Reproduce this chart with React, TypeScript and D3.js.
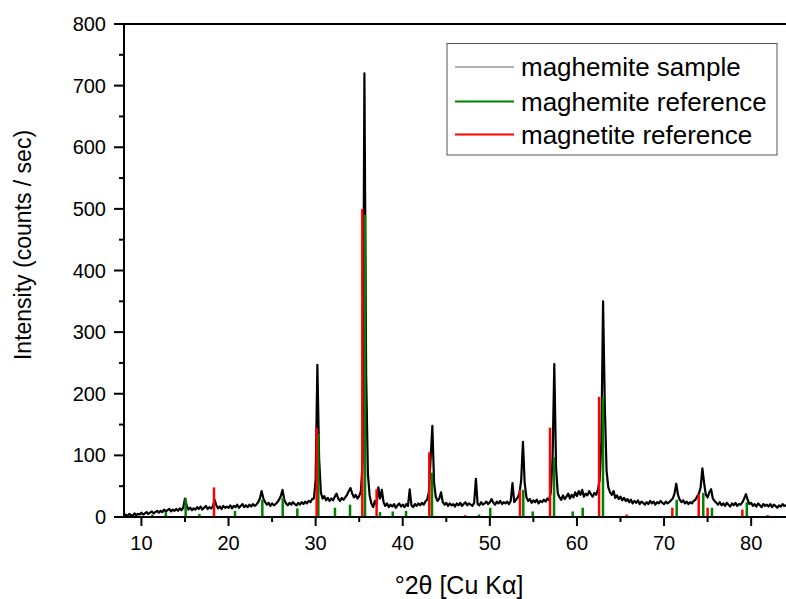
import React from 'react';
import * as d3 from 'd3';

// measured pattern, 8.0 .. 84.0 °2θ, one value every 0.2°
const angleStart = 8.0;
const angleStep = 0.2;
const sampleCounts = [
  2, 4, 1, 5, 3, 2, 6, 3, 5, 4,
  7, 4, 6, 8, 5, 7, 9, 6, 8, 10,
  7, 10, 8, 12, 9, 11, 13, 9, 12, 10,
  13, 10, 14, 11, 15, 30, 19, 12, 15, 11,
  14, 12, 16, 13, 17, 12, 15, 18, 13, 16,
  14, 17, 28, 19, 14, 17, 13, 18, 15, 17,
  15, 19, 14, 18, 16, 20, 15, 18, 21, 16,
  19, 16, 20, 17, 21, 18, 20, 24, 30, 42,
  30, 24, 20, 23, 18, 22, 19, 21, 24, 28,
  34, 44, 28, 22, 19, 23, 20, 24, 21, 19,
  23, 20, 24, 21, 25, 22, 26, 24, 29, 30,
  60, 247, 95, 40, 30, 34, 27, 31, 26, 30,
  27, 33, 38, 30, 26, 31, 28, 32, 36, 42,
  47, 38, 32, 36, 30, 34, 42, 90, 720, 230,
  70, 35, 22, 16, 26, 20, 48, 30, 44, 24,
  18, 22, 16, 20, 17, 21, 15, 19, 22, 17,
  20, 16, 21, 18, 45, 19, 16, 21, 18, 22,
  19, 23, 20, 25, 28, 40, 95, 148, 55, 32,
  26, 30, 40, 24, 20, 23, 18, 22, 19, 21,
  17, 22, 19, 23, 18, 21, 24, 19, 22, 20,
  18, 23, 62, 21, 19, 24, 20, 22, 25, 21,
  24, 29, 23, 20, 25, 22, 26, 21, 24, 22,
  25, 21, 26, 55, 24, 28, 32, 38, 60, 122,
  55, 32, 26, 29, 23, 27, 24, 28, 22, 26,
  24, 28, 25, 30, 27, 40, 95, 248, 80, 38,
  32, 28, 35, 29, 33, 38, 30, 36, 32, 40,
  34, 42, 36, 44, 33, 38, 35, 42, 37, 33,
  39, 36, 44, 60, 120, 350, 180, 75, 48, 40,
  36, 42, 31, 35, 29, 33, 27, 31, 26, 29,
  24, 28, 22, 26, 23, 27, 21, 25, 23, 20,
  24, 21, 26, 22, 25, 20, 24, 22, 26, 23,
  21, 25, 22, 24, 27, 30, 38, 54, 36, 28,
  24, 27, 22, 25, 21, 24, 22, 26, 28, 33,
  38, 48, 79, 55, 36, 32, 40, 45, 30, 26,
  23, 20, 24, 19, 22, 18, 23, 20, 17, 22,
  19, 23, 18, 21, 20, 24, 30, 37, 28, 21,
  23, 18, 21, 17, 22, 19, 16, 21, 18, 20,
  17, 21, 16, 20, 18, 15, 19, 17, 21, 18,
  19,
];

const maghemiteAngles = [11.25, 12.8, 15.08, 16.65, 20.74, 23.88, 26.22, 27.9, 30.31, 32.22, 33.95, 35.67, 37.39, 38.85, 40.38, 43.36, 48.76, 50.05, 53.84, 54.92, 57.37, 59.51, 60.66, 62.99, 71.45, 74.5, 75.5, 79.5];
const maghemiteInt = [4, 8, 30, 5, 10, 28, 31, 14, 135, 15, 20, 490, 8, 9, 10, 72, 4, 15, 44, 9, 97, 9, 15, 195, 28, 39, 15, 24];

const magnetiteAngles = [18.33, 30.12, 35.36, 37.0, 43.05, 47.15, 53.46, 56.91, 62.54, 65.71, 70.95, 73.98, 75.0, 78.99, 81.9];
const magnetiteInt = [48, 145, 500, 45, 105, 3, 44, 145, 195, 4, 15, 37, 15, 12, 3];

const xTicks = [10, 20, 30, 40, 50, 60, 70, 80];
const xMinorTicks = [15, 25, 35, 45, 55, 65, 75];
const yTicks = [0, 100, 200, 300, 400, 500, 600, 700, 800];
const yMinorTicks = [50, 150, 250, 350, 450, 550, 650, 750];

const legendNames = ['maghemite sample', 'maghemite reference', 'magnetite reference'];
const legendColors = ['#666666', '#008000', '#ff0000'];

const W = 786;
const H = 599;
const font = 'Arial, "Liberation Sans", sans-serif';

export default function App() {
  const x = d3.scaleLinear().domain([8, 84]).range([124, 786]);
  const y = d3.scaleLinear().domain([0, 800]).range([517, 24]);

  const pts: [number, number][] = sampleCounts.map((c, i) => [angleStart + i * angleStep, c]);
  const line = d3
    .line<[number, number]>()
    .x((d) => x(d[0]))
    .y((d) => y(d[1]));

  const sticks = (angles: number[], ints: number[], color: string) =>
    angles.map((a, i) => (
      <line key={color + i} x1={x(a)} x2={x(a)} y1={y(0)} y2={y(ints[i])} stroke={color} strokeWidth={2.5} />
    ));

  return (
    <svg width={W} height={H} style={{ position: 'absolute', left: 0, top: 0, background: '#fff' }}>
      <defs>
        <clipPath id="plot">
          <rect x={124} y={24} width={662} height={494} />
        </clipPath>
      </defs>
      <g clipPath="url(#plot)">
        <path d={line(pts) || ''} fill="none" stroke="#000" strokeWidth={2.2} strokeLinejoin="round" />
        {sticks(maghemiteAngles, maghemiteInt, '#008000')}
        {sticks(magnetiteAngles, magnetiteInt, '#ff0000')}
      </g>

      {/* axes */}
      <g stroke="#000" strokeWidth={2}>
        <line x1={124} x2={786} y1={y(0)} y2={y(0)} />
        <line x1={124} x2={786} y1={y(800)} y2={y(800)} />
        <line x1={124} x2={124} y1={y(800) - 1} y2={y(0) + 1} />
        {xTicks.map((t) => (
          <line key={'xt' + t} x1={x(t)} x2={x(t)} y1={y(0)} y2={y(0) + 9} />
        ))}
        {xMinorTicks.map((t) => (
          <line key={'xm' + t} x1={x(t)} x2={x(t)} y1={y(0)} y2={y(0) + 5} />
        ))}
        {yTicks.map((t) => (
          <line key={'yt' + t} x1={114} x2={124} y1={y(t)} y2={y(t)} />
        ))}
        {yMinorTicks.map((t) => (
          <line key={'ym' + t} x1={119} x2={124} y1={y(t)} y2={y(t)} />
        ))}
      </g>
      <g fontFamily={font} fontSize={20} fill="#000">
        {xTicks.map((t) => (
          <text key={'xl' + t} x={x(t)} y={550} textAnchor="middle">
            {t}
          </text>
        ))}
        {yTicks.map((t) => (
          <text key={'yl' + t} x={106} y={y(t) + 7} textAnchor="end">
            {t}
          </text>
        ))}
      </g>
      <text x={459} y={594} textAnchor="middle" fontFamily={font} fontSize={25}>
        °2θ [Cu Kα]
      </text>
      <text
        transform="translate(31,245) rotate(-90)"
        textAnchor="middle"
        fontFamily={font}
        fontSize={23}
      >
        Intensity (counts / sec)
      </text>

      {/* legend */}
      <rect x={447} y={43.5} width={330} height={111.5} fill="#fff" stroke="#555" strokeWidth={1} />
      {legendNames.map((name, i) => {
        const ly = [67, 101.5, 134.5][i];
        return (
          <g key={name}>
            <line x1={455} x2={514} y1={ly} y2={ly} stroke={legendColors[i]} strokeWidth={i === 0 ? 1 : 2} />
            <text x={521} y={ly + 9} fontFamily={font} fontSize={26}>
              {name}
            </text>
          </g>
        );
      })}
    </svg>
  );
}
